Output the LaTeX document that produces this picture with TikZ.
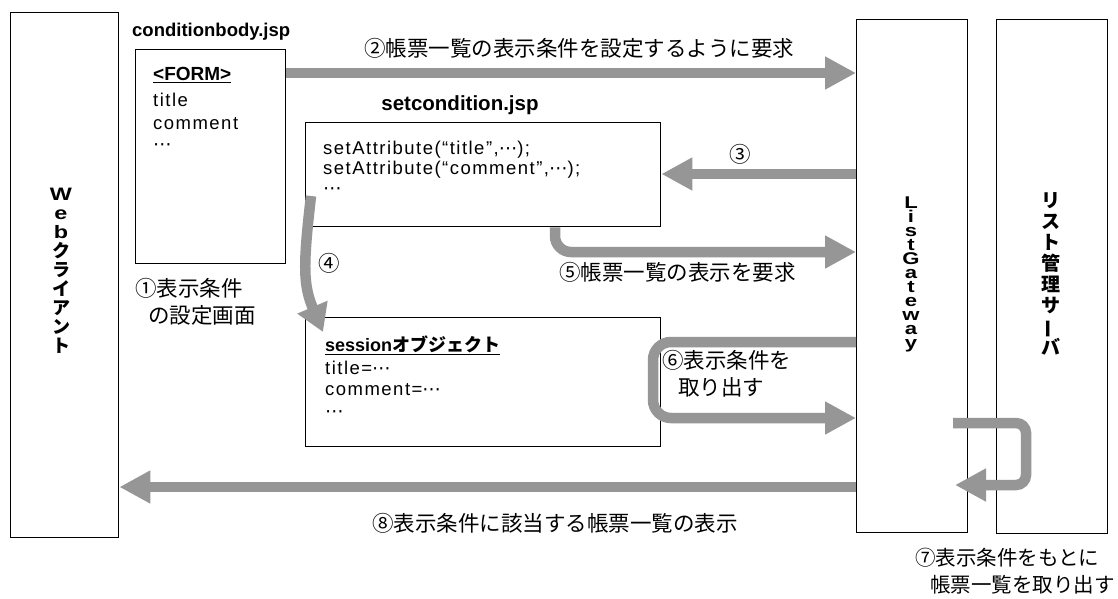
\documentclass[tikz,border=0pt]{standalone}
\usepackage{fontspec}
\setmainfont{Liberation Sans}
\newfontfamily\jp{Noto Sans CJK JP}
\newfontfamily\dv{DejaVu Sans}
\newfontfamily\latw{Liberation Sans}[LetterSpace=8]
\newfontfamily\wide{Liberation Sans}[FakeStretch=1.3]
\usetikzlibrary{arrows.meta,calc}
\definecolor{arrgray}{RGB}{150,150,150}
\newcommand{\tightlines}{\lineskiplimit-100pt\relax}
\newcommand{\mdots}{{\dv ⋯}}
\begin{document}
\begin{tikzpicture}[x=1pt,y=-1pt,
  box/.style={draw=black, line width=1.4pt, fill=white, inner sep=0pt, anchor=north west},
  garrow/.style={draw=arrgray, line width=10.5pt, -{Triangle[length=31pt,width=31pt]}},
  lbl/.style={inner sep=0pt, font=\jp\fontsize{21.5}{25}\selectfont},
  lblsm/.style={inner sep=0pt, font=\jp\fontsize{20.5}{25}\selectfont, anchor=west},
  body/.style={inner sep=0pt, font=\latw\fontsize{18.5}{21}\selectfont, anchor=west},
  bodyb/.style={inner sep=0pt, font=\bfseries\fontsize{19}{23}\selectfont, anchor=west},
  filetitle/.style={inner sep=0pt, font=\bfseries\fontsize{18.5}{21}\selectfont},
  vstack/.style={inner sep=0pt, align=center},
]
\fill[white] (0,0) rectangle (1118,598);
\useasboundingbox (0,0) rectangle (1118,598);

% boxes
\node[box, minimum width=108pt, minimum height=525pt] (web) at (10,12) {};
\node[box, minimum width=150pt, minimum height=214pt] (form) at (135,49) {};
\node[box, minimum width=355pt, minimum height=104pt] (setc) at (305,122) {};
\node[box, minimum width=355pt, minimum height=129pt] (sess) at (305,317) {};
\node[box, minimum width=111pt, minimum height=513pt] (lg) at (856,19) {};
\node[box, minimum width=111pt, minimum height=514pt] (srv) at (996,19) {};

% vertical labels
\node[vstack, font={\wide\bfseries\fontsize{18}{19}\selectfont\tightlines}] (webt) at (61,271)
  {W\\e\\b\\{\jp ク}\\{\jp ラ}\\{\jp イ}\\{\jp ア}\\{\jp ン}\\{\jp ト}};
\node[vstack, font={\wide\bfseries\fontsize{17}{14}\selectfont\tightlines}] (lgt) at (911,274)
  {L\\i\\s\\t\\G\\a\\t\\e\\w\\a\\y};
\node[vstack, font={\jp\bfseries\fontsize{19}{21}\selectfont\tightlines}] (srvt) at (1051,274)
  {リ\\ス\\ト\\管\\理\\サ\\\rotatebox[origin=c]{90}{ー}\\バ};

% file titles
\node[filetitle, anchor=west] (cbj) at (132,32) {conditionbody.jsp};
\node[filetitle, font=\bfseries\fontsize{20.5}{22}\selectfont] (scj) at (460,105) {setcondition.jsp};

% FORM contents
\node[bodyb] (formh) at (153,75) {\underline{<FORM>}};
\node[body] (ft) at (153,100) {title};
\node[body] (fc) at (153,124) {comment};
\node[body] (fd) at (153,147) {\mdots};

% setcondition contents
\node[body] (sa1) at (323,150) {setAttribute(“title”,\mdots);};
\node[body] (sa2) at (323,170) {setAttribute(“comment”,\mdots);};
\node[body] (sa3) at (323,191) {\mdots};

% session contents
\node[bodyb, font=\bfseries\fontsize{18}{22}\selectfont] (sh) at (325,345) {\underline{session{\jp オブジェクト}}};
\node[body] (st) at (325,368) {title=\mdots};
\node[body] (sc) at (325,390) {comment=\mdots};
\node[body] (sd) at (325,414) {\mdots};

% helper coordinates
\coordinate (y2) at (0,73);
\coordinate (y3) at (0,174);
\coordinate (s4) at (311,196);
\coordinate (x5) at (555,0);
\coordinate (y5) at (0,252);
\coordinate (x6) at (653,0);
\coordinate (y6a) at (0,342);
\coordinate (y6b) at (0,418);
\coordinate (p7s) at (953,423);
\coordinate (x7) at (1026,0);
\coordinate (p7e) at (955,485);
\coordinate (y8) at (0,487);

% arrows
\draw[garrow] (form.east |- y2) -- (lg.west |- y2);
\draw[garrow] (lg.west |- y3) -- (setc.east |- y3);
\draw[garrow, -{Triangle[length=27pt,width=31pt]}] (s4) .. controls (303,265) and (303,285) .. ($(sess.north west)+(18,15)$);
\draw[garrow, rounded corners=16pt] (setc.south -| x5) -- (x5 |- y5) -- (lg.west |- y5);
\draw[garrow, rounded corners=18pt] (lg.west |- y6a) -- (x6 |- y6a) -- (x6 |- y6b) -- (lg.west |- y6b);
\draw[garrow, rounded corners=10pt] (p7s) -- (x7 |- p7s) -- (x7 |- p7e) -- (p7e);
\draw[garrow] (lg.west |- y8) -- (web.east |- y8);

% labels
\node[lbl] (l2) at (579,48) {②帳票一覧の表示条件を設定するように要求};
\node[lbl] (l3) at (740,154) {③};
\node[lbl] (l4) at (329,263) {④};
\node[lbl, anchor=west] (l5) at (559,272) {⑤帳票一覧の表示を要求};
\node[lbl, anchor=west] (l6a) at (662,360) {⑥表示条件を};
\node[lbl, anchor=west] (l6b) at (678,387) {取り出す};
\node[lblsm] (l7a) at (915,558) {⑦表示条件をもとに};
\node[lblsm] (l7b) at (930,585) {帳票一覧を取り出す};
\node[lbl, anchor=west] (l8) at (372,523) {⑧表示条件に該当する帳票一覧の表示};
\node[lbl, anchor=west] (l1a) at (135,288) {①表示条件};
\node[lbl, anchor=west] (l1b) at (148,315) {の設定画面};
\end{tikzpicture}
\end{document}
